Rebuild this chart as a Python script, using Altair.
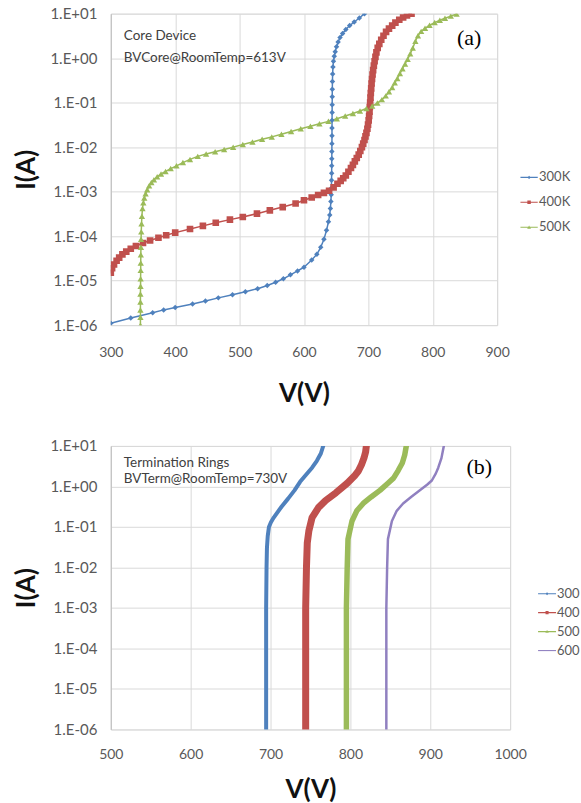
import altair as alt
import pandas as pd

# ---------------- Panel (a): Core Device ----------------
a_series = ["300K", "400K", "500K"]
a_colors = ["#4F81BD", "#C0504D", "#9BBB59"]

a_v_300 = [300, 331, 365, 382, 400, 427, 447, 467, 489, 509, 528, 543, 556, 568, 579, 590,
           600, 612, 620, 626, 631, 635, 638, 640, 641, 641.8, 642.3, 642.6, 642.8, 643, 643.1,
           643.2, 643.3, 643.4, 643.5, 643.5, 643.6, 643.7, 643.8, 643.9, 644, 644.2, 644.5, 645,
           645.8, 647, 648.5, 650.5, 653, 656, 660, 665, 671, 678, 686, 694]
a_i_300 = [1.1e-6, 1.45e-6, 1.9e-6, 2.2e-6, 2.5e-6, 3.0e-6, 3.5e-6, 4.1e-6, 4.8e-6, 5.6e-6, 6.6e-6,
           7.8e-6, 9.2e-6, 1.1e-5, 1.35e-5, 1.65e-5,
           2.0e-5, 2.9e-5, 3.9e-5, 5.6e-5, 8.5e-5, 1.35e-4, 2.1e-4, 3e-4, 4.2e-4, 6e-4, 8.5e-4, 1.2e-3,
           1.8e-3, 2.6e-3, 3.8e-3, 5.5e-3, 8e-3, 1.2e-2, 1.8e-2, 2.7e-2, 4e-2, 6e-2, 9e-2, 1.35e-1,
           2e-1, 3e-1, 4.4e-1, 6.3e-1, 8.5e-1, 1.1, 1.4, 1.8, 2.3, 2.9, 3.6, 4.4, 5.4, 6.5, 8.0, 10]

a_v_400 = [300, 302, 305, 309, 313, 318, 324, 331, 339, 350, 361, 374, 386, 400, 423, 443, 463,
           485, 505, 527, 547, 567, 587, 600, 612, 622, 631, 639, 646, 652, 657, 661, 665, 669, 673,
           676, 679, 682, 685, 687.5, 690, 692, 694, 695.5, 697, 698.5, 699.5, 700.5, 701.2, 701.8,
           702.3, 702.8, 703.3, 703.8, 704.4, 705, 705.7, 706.5, 707.4, 708.5, 709.7, 711, 712.5,
           714.5, 717, 720, 723.5, 727.5, 732, 737, 742, 748, 754, 760, 767]
a_i_400 = [1.5e-5, 1.9e-5, 2.3e-5, 2.8e-5, 3.3e-5, 3.9e-5, 4.5e-5, 5.2e-5, 6.0e-5, 7.0e-5, 8.0e-5,
           9.2e-5, 1.05e-4, 1.2e-4, 1.45e-4, 1.7e-4, 2.0e-4, 2.35e-4, 2.7e-4, 3.2e-4, 3.8e-4, 4.5e-4,
           5.4e-4, 6.4e-4, 7.4e-4, 8.4e-4, 9.4e-4, 1.05e-3, 1.25e-3, 1.5e-3, 1.75e-3, 2.0e-3, 2.3e-3,
           2.8e-3, 3.4e-3, 4.0e-3, 4.8e-3, 5.7e-3, 6.8e-3, 8.2e-3, 1.0e-2, 1.2e-2, 1.45e-2, 1.75e-2,
           2.1e-2, 2.6e-2, 3.2e-2, 4e-2, 5e-2, 6.3e-2, 8e-2, 1e-1, 1.3e-1, 1.65e-1, 2.1e-1, 2.7e-1,
           3.4e-1, 4.3e-1, 5.4e-1, 6.8e-1, 8.5e-1, 1.07, 1.35, 1.7, 2.1, 2.6, 3.2, 3.9, 4.6, 5.4, 6.3,
           7.3, 8.2, 9.1, 10]

a_v_500 = [346, 346, 346, 346, 346, 346.2, 346.3, 346.4, 346.5, 346.6, 346.8, 347, 347.3, 347.7,
           348.3, 349.2, 350.5, 352, 354, 356.5, 359.5, 363, 367, 372, 378, 385, 393, 402, 412, 423,
           435, 448, 462, 476, 490, 505, 520, 535, 550, 565, 580, 595, 610, 624, 638, 651, 664, 676,
           687, 697, 706, 714, 721, 727, 732, 737, 741, 745, 749, 753, 757, 761, 765, 769, 773, 777,
           782, 788, 795, 803, 811, 819, 828, 837]
a_i_500 = [1e-6, 1.5e-6, 2.2e-6, 3.3e-6, 5e-6, 7.5e-6, 1.1e-5, 1.7e-5, 2.5e-5, 3.8e-5, 5.6e-5, 8.5e-5,
           1.25e-4, 1.9e-4, 2.8e-4, 4.2e-4, 5.6e-4, 7.2e-4, 9e-4, 1.1e-3, 1.35e-3, 1.6e-3, 1.85e-3,
           2.15e-3, 2.5e-3, 2.85e-3, 3.3e-3, 3.8e-3, 4.5e-3, 5.3e-3, 6.2e-3, 7.0e-3, 7.9e-3, 8.9e-3,
           1.0e-2, 1.15e-2, 1.3e-2, 1.5e-2, 1.7e-2, 1.95e-2, 2.25e-2, 2.6e-2, 2.95e-2, 3.35e-2, 3.8e-2,
           4.35e-2, 5e-2, 5.7e-2, 6.5e-2, 7.4e-2, 8.4e-2, 9.8e-2, 1.17e-1, 1.42e-1, 1.75e-1, 2.2e-1,
           2.8e-1, 3.5e-1, 4.5e-1, 5.8e-1, 7.4e-1, 9.5e-1, 1.25, 1.7, 2.4, 3.2, 4.0, 4.7, 5.5, 6.3, 7.1,
           7.9, 8.8, 9.8]

a_xticks = [300, 400, 500, 600, 700, 800, 900]
a_notes = ["Core Device", "BVCore@RoomTemp=613V"]
a_tag = "(a)"
a_markers = [("diamond", 30), ("square", 44), ("triangle-up", 40)]
a_widths = [1.5, 1.5, 1.5]

# ---------------- Panel (b): Termination Rings ----------------
b_series = ["300", "400", "500", "600"]
b_colors = ["#4F81BD", "#C0504D", "#9BBB59", "#9080C0"]

b_v_300 = [694.5, 694.5, 695, 695.5, 696.5, 698, 700.5, 704, 708, 714, 722, 730, 737, 745, 752,
           758, 763, 766]
b_i_300 = [1e-6, 1e-3, 1e-2, 3e-2, 6e-2, 0.1, 0.13, 0.17, 0.22, 0.32, 0.5, 0.8, 1.3, 2.0, 2.9,
           4.3, 6.5, 10]
b_v_400 = [744, 744, 745, 746, 748, 752, 760, 769, 782, 796, 805, 810, 814, 817, 819, 820]
b_i_400 = [1e-6, 1e-3, 1e-2, 4e-2, 8e-2, 0.17, 0.3, 0.45, 0.7, 1.2, 1.8, 2.4, 3.5, 5, 7, 10]
b_v_500 = [795, 795, 796, 797, 802, 808, 816, 826, 837, 847, 854, 860, 865, 868, 870]
b_i_500 = [1e-6, 1e-3, 1e-2, 5e-2, 0.14, 0.25, 0.38, 0.55, 0.8, 1.2, 1.6, 2.5, 3.8, 6, 10]
b_v_600 = [845, 845, 846, 847, 852, 858, 866, 876, 887, 896, 902, 907, 910, 914, 917]
b_i_600 = [1e-6, 1e-3, 1e-2, 5e-2, 0.14, 0.25, 0.38, 0.55, 0.8, 1.1, 1.4, 2.1, 2.9, 5, 10]
b_widths = [4, 7, 5.5, 2.5]
b_markers = [None, None, None, None]

b_xticks = [500, 600, 700, 800, 900, 1000]
b_notes = ["Termination Rings", "BVTerm@RoomTemp=730V"]
b_tag = "(b)"

y_ticks = [1e-6, 1e-5, 1e-4, 1e-3, 1e-2, 1e-1, 1, 10]

# legend glyphs: a short line with the series marker (unit box -1..1)
LINE = "M-1,-0.06H1V0.06H-1Z"
a_glyphs = [LINE + "M0,-0.2L0.2,0L0,0.2L-0.2,0Z",
            LINE + "M-0.2,-0.2H0.2V0.2H-0.2Z",
            LINE + "M0,-0.22L0.22,0.16L-0.22,0.16Z"]
b_glyphs = [LINE + "M0,-0.17L0.17,0L0,0.17L-0.17,0Z",
            LINE + "M-0.17,-0.17H0.17V0.17H-0.17Z",
            LINE + "M0,-0.19L0.19,0.14L-0.19,0.14Z",
            LINE]


def frame(series, vs, is_):
    rows = []
    for s, v, i in zip(series, vs, is_):
        for k, (vv, ii) in enumerate(zip(v, i)):
            rows.append({"series": s, "V": vv, "I": ii, "idx": k})
    return pd.DataFrame(rows)


df_a = frame(a_series, [a_v_300, a_v_400, a_v_500], [a_i_300, a_i_400, a_i_500])
df_b = frame(b_series, [b_v_300, b_v_400, b_v_500, b_v_600],
             [b_i_300, b_i_400, b_i_500, b_i_600])

FONT = "Lato"
LABEL_EXPR = ("'1.E' + (round(log(datum.value)/LN10) < 0 ? '-' : '+') + "
              "(abs(round(log(datum.value)/LN10)) < 10 ? '0' : '') + "
              "abs(round(log(datum.value)/LN10))")


def axis_common(**kw):
    base = dict(grid=True, gridColor="#d9d9d9", gridWidth=1, ticks=False,
                domainColor="#bfbfbf", labelFont=FONT, labelFontSize=14,
                labelColor="#595959", titleFont=FONT, titleFontSize=26,
                titleFontWeight="bold", titleColor="#111111", labelFlush=False)
    base.update(kw)
    return alt.Axis(**base)


def text_layer(txt, x, y, **kw):
    return alt.Chart(pd.DataFrame({"t": [txt]})).mark_text(**kw).encode(
        x=alt.value(x), y=alt.value(y), text="t:N")


def panel(df, series, colors, xdom, xticks, w, h, notes, tag, tagpos, glyphs,
          legend_xy, legend_gap, label_pad_x, title_pad_x, markers, widths, symsize):
    x = alt.X("V:Q", scale=alt.Scale(domain=xdom, nice=False, zero=False),
              axis=axis_common(values=xticks, title="V(V)", labelPadding=label_pad_x,
                               titlePadding=title_pad_x, domain=False, format="d"))
    y = alt.Y("I:Q", scale=alt.Scale(type="log", domain=[1e-6, 10], nice=False),
              axis=axis_common(values=y_ticks, title="I(A)", labelExpr=LABEL_EXPR,
                               labelPadding=14, titlePadding=10, labelFontSize=15))
    base = alt.Chart(df)
    layers = []
    for s, c, wd in zip(series, colors, widths):
        layers.append(base.transform_filter(alt.datum.series == s).mark_line(
            strokeWidth=wd, color=c, clip=True, strokeCap="round", strokeJoin="round"
        ).encode(x=x, y=y, order="idx:Q"))
    for s, c, m in zip(series, colors, markers):
        if m is None:
            continue
        shape, size = m
        layers.append(base.transform_filter(alt.datum.series == s).mark_point(
            shape=shape, size=size, filled=True, color=c, opacity=1, clip=True
        ).encode(x=x, y=y))
    leg = alt.Legend(title=None, orient="none", legendX=legend_xy[0], legendY=legend_xy[1],
                     labelFont=FONT, labelFontSize=13, labelColor="#595959",
                     symbolSize=symsize, symbolOpacity=1, symbolStrokeWidth=0,
                     rowPadding=legend_gap, labelOffset=1)
    leg_df = pd.DataFrame({"series": series})
    legend_layer = alt.Chart(leg_df).mark_point(filled=True, opacity=0).encode(
        color=alt.Color("series:N", scale=alt.Scale(domain=series, range=colors), legend=leg),
        shape=alt.Shape("series:N", scale=alt.Scale(domain=series, range=glyphs), legend=leg),
    )
    layers.append(legend_layer)
    note_kw = dict(align="left", baseline="middle", font=FONT, fontSize=13.5, color="#404040")
    layers.append(text_layer(notes[0], 13, tagpos[2], **note_kw))
    layers.append(text_layer(notes[1], 13, tagpos[3], **note_kw))
    layers.append(text_layer(tag, tagpos[0], tagpos[1], align="center", baseline="middle",
                             font="Liberation Serif", fontSize=22, color="black"))
    return alt.layer(*layers).properties(width=w, height=h)


top = panel(df_a, a_series, a_colors, [300, 900], a_xticks, 387, 312, a_notes, a_tag,
            (359, 24, 22, 44), a_glyphs, (410, 155), 9, 20, 22, a_markers, a_widths, 300)
bottom = panel(df_b, b_series, b_colors, [500, 1000], b_xticks, 400, 284, b_notes, b_tag,
               (369, 21, 17, 33), b_glyphs, (428, 139), 3, 18, 15, b_markers, b_widths, 324)

chart = alt.vconcat(top, bottom, spacing=30).resolve_scale(
    color="independent", shape="independent"
).resolve_legend(color="independent", shape="independent").properties(
    padding={"left": 13, "top": 5, "right": 0, "bottom": 0}
).configure_view(stroke=None).configure(background="white")

chart.save("out.html", embed_options={"renderer": "svg", "actions": False})
